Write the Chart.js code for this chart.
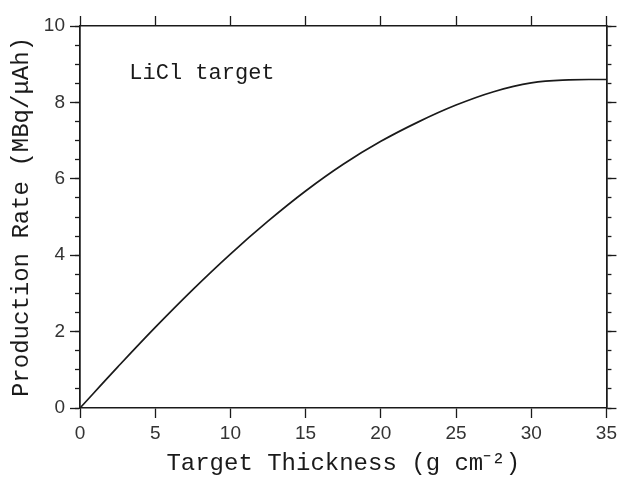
<!DOCTYPE html>
<html>
<head>
<meta charset="utf-8">
<script src="https://cdn.jsdelivr.net/npm/chart.js@4"></script>
<style>
  html, body { margin: 0; padding: 0; background: #fff; }
</style>
</head>
<body>
<canvas id="chart" width="621" height="477"></canvas>
<script>
// Data
const thickness = [0, 2.5, 5, 7.5, 10, 12.5, 15, 17.5, 20, 22.5, 25, 27.5, 30, 32.5, 35];
const rate = [0, 1.07, 2.11, 3.1, 4.03, 4.89, 5.68, 6.38, 6.98, 7.49, 7.93, 8.28, 8.51, 8.59, 8.6];
const xTicks = [0, 5, 10, 15, 20, 25, 30, 35];
const yTicks = [0, 2, 4, 6, 8, 10];
const label = 'LiCl target';

const ink = '#1a1a1a';
const tickFont = { family: 'Liberation Sans', size: 19 };
const titleFont = { family: 'Liberation Mono', size: 24, lineHeight: 1 };

// text label inside the plot
const labelPlugin = {
    id: 'label',
    afterDraw(chart) {
        const ctx = chart.ctx;
        const x = chart.scales.x.getPixelForValue(3.28);
        const y = chart.scales.y.getPixelForValue(8.62);
        ctx.save();
        ctx.fillStyle = ink;
        ctx.font = '22px "Liberation Mono"';
        ctx.textBaseline = 'alphabetic';
        ctx.fillText(label, x, y);
        ctx.restore();
    }
};

function minorAxis(pos, len) {
    return {
        type: 'linear', position: pos, min: 0, max: 10, weight: 0,
        ticks: { display: false, stepSize: 0.5 },
        grid: { drawOnChartArea: false, tickLength: len, tickColor: ink, tickWidth: 1.3 },
        border: { color: ink, width: 1.5 },
        afterFit: s => { s.width = 0; }
    };
}

new Chart(document.getElementById('chart'), {
    type: 'line',
    data: {
        datasets: [{
            data: thickness.map((t, i) => ({ x: t, y: rate[i] })),
            borderColor: ink,
            borderWidth: 1.7,
            pointRadius: 0,
            fill: false,
            tension: 0.4,
            xAxisID: 'x',
            yAxisID: 'y'
        }]
    },
    options: {
        responsive: false,
        animation: false,
        devicePixelRatio: 1,
        layout: { padding: 0 },
        plugins: { legend: { display: false }, tooltip: { enabled: false } },
        scales: {
            x: {
                type: 'linear', position: 'bottom', min: 0, max: 35,
                afterBuildTicks: s => { s.ticks = xTicks.map(v => ({ value: v })); },
                ticks: { font: tickFont, color: '#333', padding: 4 },
                grid: { drawOnChartArea: false, tickLength: 10, tickColor: ink, tickWidth: 1.3 },
                border: { color: ink, width: 1.5 },
                title: { display: true, text: 'Target Thickness (g cm\u207B\u00B2)', font: titleFont, color: ink, padding: { top: 0, bottom: 1 } },
                afterFit: s => { s.height = 69; }
            },
            xTop: {
                type: 'linear', position: 'top', min: 0, max: 35,
                afterBuildTicks: s => { s.ticks = xTicks.map(v => ({ value: v })); },
                ticks: { display: false },
                grid: { drawOnChartArea: false, tickLength: 10, tickColor: ink, tickWidth: 1.3 },
                border: { color: ink, width: 1.5 },
                afterFit: s => { s.height = 26; }
            },
            y: {
                type: 'linear', position: 'left', min: 0, max: 10, weight: 1,
                afterBuildTicks: s => { s.ticks = yTicks.map(v => ({ value: v })); },
                ticks: { font: tickFont, color: '#333', padding: 5 },
                grid: { drawOnChartArea: false, tickLength: 10, tickColor: ink, tickWidth: 1.3 },
                border: { color: ink, width: 1.5 },
                title: { display: true, text: 'Production Rate (MBq/\u03BCAh)', font: titleFont, color: ink, padding: { top: 10, bottom: 0 } },
                afterFit: s => { s.width = 80; }
            },
            yMinor: minorAxis('left', 5),
            yRight: {
                type: 'linear', position: 'right', min: 0, max: 10, weight: 1,
                afterBuildTicks: s => { s.ticks = yTicks.map(v => ({ value: v })); },
                ticks: { display: false },
                grid: { drawOnChartArea: false, tickLength: 10, tickColor: ink, tickWidth: 1.3 },
                border: { color: ink, width: 1.5 },
                afterFit: s => { s.width = 12; }
            },
            yRightMinor: minorAxis('right', 5)
        }
    },
    plugins: [labelPlugin]
});
</script>
</body>
</html>
